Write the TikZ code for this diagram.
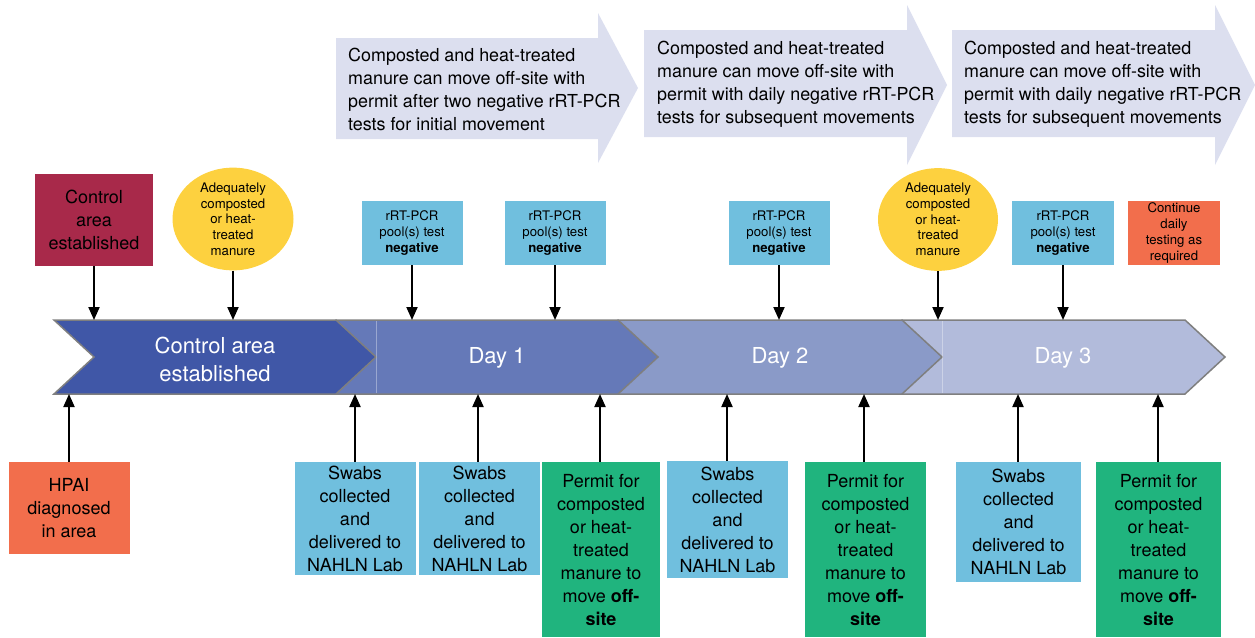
\documentclass[tikz,border=0pt]{standalone}
\usepackage{fontspec}
\setmainfont{TeX Gyre Heros}
\usetikzlibrary{arrows.meta,shapes.geometric}
\definecolor{bannerfill}{RGB}{220,223,239}
\definecolor{crimson}{RGB}{168,41,74}
\definecolor{sun}{RGB}{253,209,63}
\definecolor{sky}{RGB}{112,191,222}
\definecolor{coral}{RGB}{242,110,76}
\definecolor{mint}{RGB}{32,180,126}
\definecolor{chev0}{RGB}{64,87,167}
\definecolor{chev1}{RGB}{101,121,184}
\definecolor{chev2}{RGB}{138,154,200}
\definecolor{chev3}{RGB}{178,187,219}
\definecolor{chevgray}{RGB}{127,127,127}
\newcommand{\myfs}[2]{\fontsize{#1}{#2}\selectfont}
\begin{document}
\begin{tikzpicture}[x=1pt,y=-1pt,
  box/.style={rectangle, inner sep=0pt, align=center, text=black},
  big/.style={font=\myfs{18}{23}},
  small/.style={font=\myfs{13.2}{15.7}},
  conn/.style={line width=2pt, -{Triangle[width=11pt,length=13pt]}},
  chev/.style={draw=chevgray, line width=1.5pt, line join=miter},
  bannertext/.style={font=\myfs{17.9}{23}, anchor=west, align=left, inner sep=0pt, text=black},
  daytext/.style={text=white, font=\myfs{22}{28}, align=center, inner sep=0pt}
]
\useasboundingbox (0,0) rectangle (1255,637);

% banners
\fill[bannerfill] (336,38)--(598,38)--(598,13)--(638,88)--(598,163)--(598,139)--(336,139)--cycle;
\fill[bannerfill] (644,30)--(907,30)--(907,5)--(947,85)--(907,165)--(907,137)--(644,137)--cycle;
\fill[bannerfill] (952,30)--(1215,30)--(1215,5)--(1255,85)--(1215,165)--(1215,137)--(952,137)--cycle;
\node[bannertext] (b1) at (348,89.5) {Composted and heat-treated\\manure can move off-site with\\permit after two negative rRT-PCR\\tests for initial movement};
\node[bannertext] (b2) at (657,84.5) {Composted and heat-treated\\manure can move off-site with\\permit with daily negative rRT-PCR\\tests for subsequent movements};
\node[bannertext] (b3) at (964,84.5) {Composted and heat-treated\\manure can move off-site with\\permit with daily negative rRT-PCR\\tests for subsequent movements};

% timeline chevrons
\filldraw[chev, fill=chev3] (902,320)--(1185,320)--(1225,357)--(1185,394)--(902,394)--cycle;
\filldraw[chev, fill=chev2] (618,320)--(902,320)--(942,357)--(902,394)--(618,394)--cycle;
\filldraw[chev, fill=chev1] (336,320)--(618,320)--(658,357)--(618,394)--(336,394)--cycle;
\filldraw[chev, fill=chev0] (54,320)--(336,320)--(376,357)--(336,394)--(54,394)--(94,357)--cycle;
\draw[white, opacity=0.35, line width=0.7pt] (376,321)--(376,393);
\draw[white, opacity=0.35, line width=0.7pt] (942,321)--(942,393);

\node[daytext] (d0) at (215,359) {Control area\\established};
\node[daytext] (d1) at (497,358) {Day 1};
\node[daytext] (d2) at (780,358) {Day 2};
\node[daytext] (d3) at (1063,358) {Day 3};

% timeline anchor points
\foreach \n/\x in {ta/94, tb/233, tc/412, td/555, te/779, tf/938, tg/1063}
  \coordinate (\n) at (\x,320);
\foreach \n/\x in {ua/69, ub/355, uc/478, ud/600, ue/727, uf/864, ug/1018, uh/1158}
  \coordinate (\n) at (\x,394);

% top nodes
\node[box, big, fill=crimson, minimum width=118, minimum height=92] (ctrl) at (94,220) {Control\\area\\established};
\node[ellipse, inner sep=0pt, align=center, fill=sun, small, minimum width=121, minimum height=91] (ell1) at (233,219) {Adequately\\composted\\or heat-\\treated\\manure};
\node[box, small, fill=sky, minimum width=101, minimum height=64] (pcr1) at (412,233) {rRT-PCR\\pool(s) test\\\textbf{negative}};
\node[box, small, fill=sky, minimum width=101, minimum height=64] (pcr2) at (555,233) {rRT-PCR\\pool(s) test\\\textbf{negative}};
\node[box, small, fill=sky, minimum width=101, minimum height=64] (pcr3) at (779,233) {rRT-PCR\\pool(s) test\\\textbf{negative}};
\node[ellipse, inner sep=0pt, align=center, fill=sun, small, minimum width=120, minimum height=89] (ell2) at (938,219.5) {Adequately\\composted\\or heat-\\treated\\manure};
\node[box, small, fill=sky, minimum width=102, minimum height=64] (pcr4) at (1063,233) {rRT-PCR\\pool(s) test\\\textbf{negative}};
\node[box, small, fill=coral, minimum width=92, minimum height=64] (cont) at (1174,233) {Continue\\daily\\testing as\\required};

% bottom nodes
\node[box, big, fill=coral, minimum width=121, minimum height=92] (hpai) at (69,508) {HPAI\\diagnosed\\in area};
\node[box, big, fill=sky, minimum width=121, minimum height=113] (sw1) at (355,518.5) {Swabs\\collected\\and\\delivered to\\NAHLN Lab};
\node[box, big, fill=sky, minimum width=121, minimum height=113] (sw2) at (479.5,518.5) {Swabs\\collected\\and\\delivered to\\NAHLN Lab};
\node[box, big, fill=mint, minimum width=118, minimum height=175] (pm1) at (601,549.5) {Permit for\\composted\\or heat-\\treated\\manure to\\move \textbf{off-}\\\textbf{site}};
\node[box, big, fill=sky, minimum width=121, minimum height=117] (sw3) at (727.5,519.5) {Swabs\\collected\\and\\delivered to\\NAHLN Lab};
\node[box, big, fill=mint, minimum width=121, minimum height=175] (pm2) at (865.5,549.5) {Permit for\\composted\\or heat-\\treated\\manure to\\move \textbf{off-}\\\textbf{site}};
\node[box, big, fill=sky, minimum width=125, minimum height=120] (sw4) at (1018.5,522) {Swabs\\collected\\and\\delivered to\\NAHLN Lab};
\node[box, big, fill=mint, minimum width=125, minimum height=175] (pm3) at (1158.5,549.5) {Permit for\\composted\\or heat-\\treated\\manure to\\move \textbf{off-}\\\textbf{site}};

% connectors down
\draw[conn] (ctrl.south) -- (ta);
\draw[conn] (ell1.south) -- (tb);
\draw[conn] (pcr1.south) -- (tc);
\draw[conn] (pcr2.south) -- (td);
\draw[conn] (pcr3.south) -- (te);
\draw[conn] (ell2.south) -- (tf);
\draw[conn] (pcr4.south) -- (tg);
% connectors up
\draw[conn] (hpai.north) -- (ua);
\draw[conn] (sw1.north) -- (ub);
\draw[conn] (sw2.north -| uc) -- (uc);
\draw[conn] (pm1.north -| ud) -- (ud);
\draw[conn] (sw3.north -| ue) -- (ue);
\draw[conn] (pm2.north -| uf) -- (uf);
\draw[conn] (sw4.north -| ug) -- (ug);
\draw[conn] (pm3.north -| uh) -- (uh);
\end{tikzpicture}
\end{document}
